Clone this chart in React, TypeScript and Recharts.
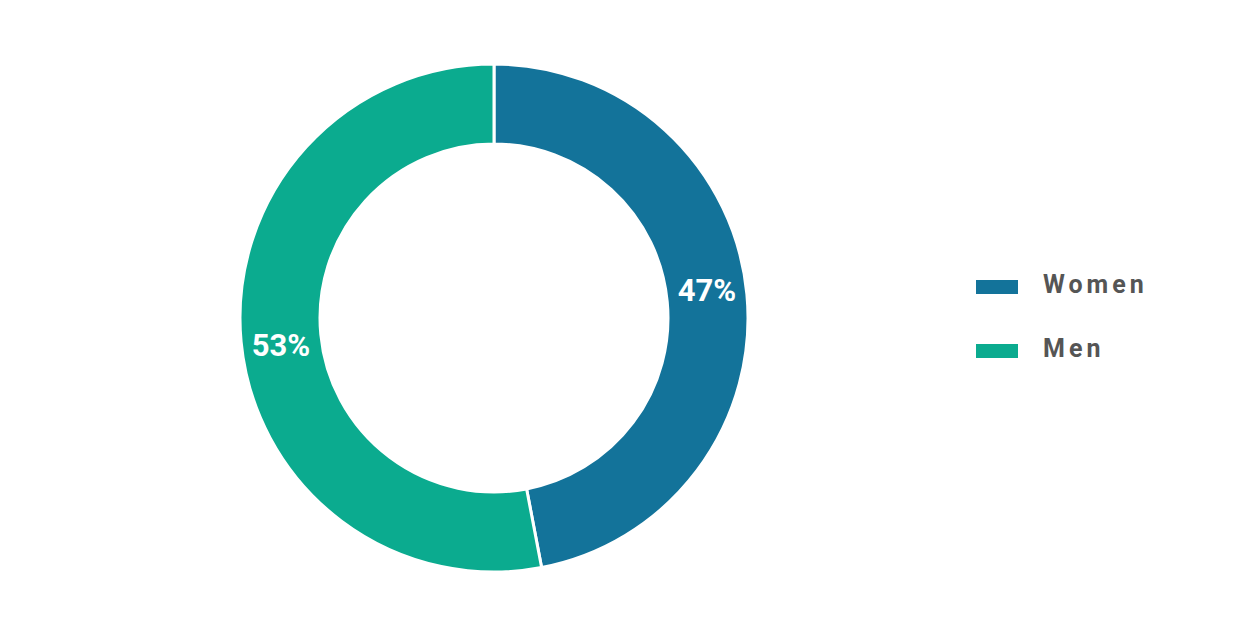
import { PieChart, Pie, Cell, Legend } from "recharts";

const categories = ["Women", "Men"];
const shares = [47, 53];
const colors = ["#13739A", "#0BAB8F"];

const data = categories.map((name, i) => ({ name, value: shares[i] }));

const RADIAN = Math.PI / 180;

function renderLabel(props: any) {
  const { cx, cy, midAngle, innerRadius, outerRadius, percent } = props;
  const r = (innerRadius + outerRadius) / 2;
  const x = cx + r * Math.cos(-midAngle * RADIAN);
  const y = cy + r * Math.sin(-midAngle * RADIAN) * 1.35;
  return (
    <text
      x={x}
      y={y}
      fill="#ffffff"
      textAnchor="middle"
      dominantBaseline="central"
      fontFamily="Roboto, sans-serif"
      fontWeight={700}
      fontSize={31}
    >
      {`${Math.round(percent * 100)}%`}
    </text>
  );
}

// legend drawn from the data arrays so the order stays Women, Men
function renderLegend() {
  return (
    <div>
      {categories.map((name, i) => (
        <div key={name} style={{ display: "flex", alignItems: "center", height: 64 }}>
          <div style={{ width: 42, height: 14, background: colors[i], marginRight: 25 }} />
          <span
            style={{
              fontFamily: "Roboto, sans-serif",
              fontWeight: 700,
              fontSize: 25,
              letterSpacing: 4,
              color: "#555555",
              marginTop: -6,
            }}
          >
            {name}
          </span>
        </div>
      ))}
    </div>
  );
}

export default function App() {
  return (
    <div style={{ position: "absolute", left: 0, top: 0, background: "#fff" }}>
      <PieChart width={1250} height={625} margin={{ top: 0, right: 0, bottom: 0, left: 0 }}>
        <Pie
          data={data}
          dataKey="value"
          nameKey="name"
          cx={494}
          cy={318}
          innerRadius={174}
          outerRadius={254}
          startAngle={90}
          endAngle={-270}
          stroke="#ffffff"
          strokeWidth={3}
          label={renderLabel}
          labelLine={false}
          isAnimationActive={false}
        >
          {data.map((d, i) => (
            <Cell key={d.name} fill={colors[i]} />
          ))}
        </Pie>
        <Legend
          content={renderLegend}
          wrapperStyle={{ left: 976, top: 255, width: 250, bottom: "auto", right: "auto" }}
        />
      </PieChart>
    </div>
  );
}
